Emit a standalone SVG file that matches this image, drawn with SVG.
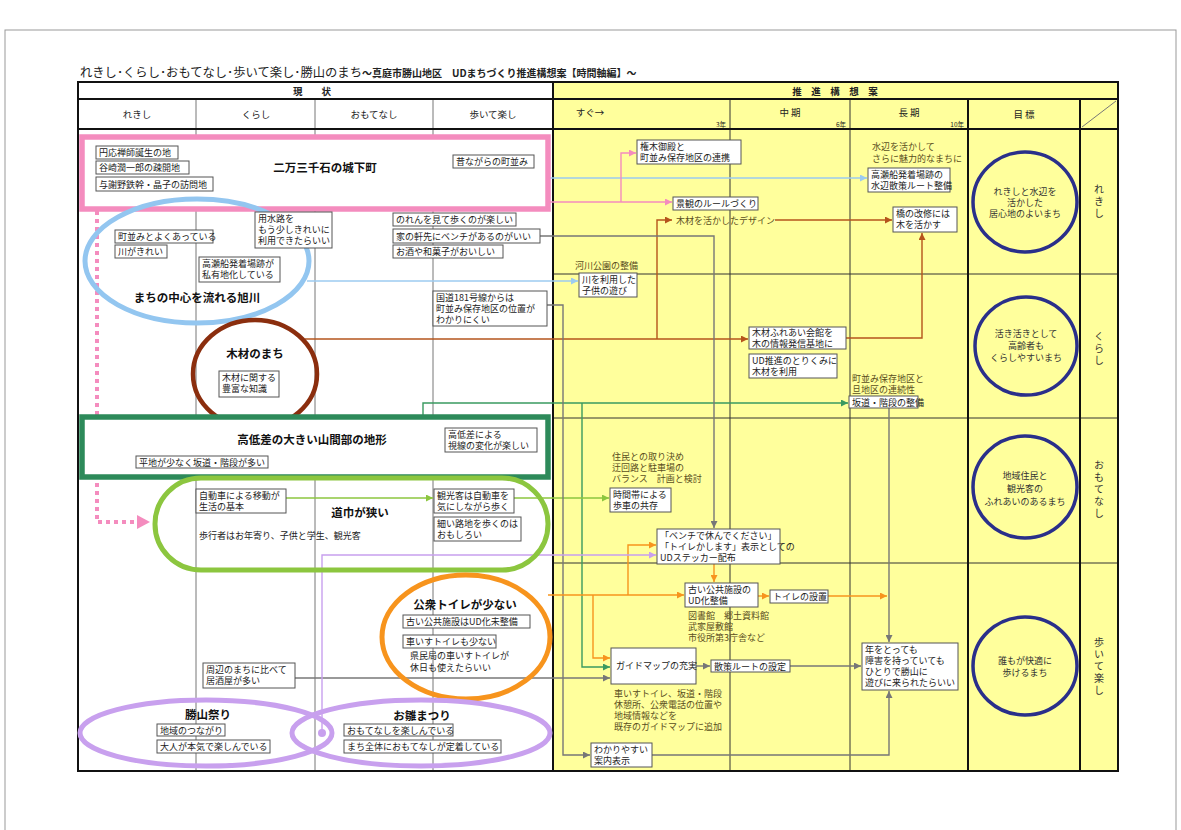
<svg xmlns="http://www.w3.org/2000/svg" width="1181" height="830" viewBox="0 0 1181 830">
<style>
.t{font-family:"Noto Sans CJK JP","Noto Sans CJK SC",sans-serif;font-size:9px;fill:#222}
.h{font-size:9.5px;text-anchor:middle}
.tb{font-weight:bold;font-size:11.5px;text-anchor:middle;fill:#111}
.ann{fill:#5a4e1c}
.ct{text-anchor:middle;font-size:9px;fill:#333}
.yr{font-size:6.5px;text-anchor:end}
.rl{text-anchor:middle;font-size:10px;fill:#333;writing-mode:vertical-rl;letter-spacing:2px}
.bx{fill:#fff;stroke:#555;stroke-width:1}
.gl{stroke:#777;stroke-width:1}
.dk{stroke:#333;stroke-width:1}
.hv{stroke:#111;stroke-width:2}
.c{fill:none;stroke-width:1.4}
.gray{stroke:#777}
.pink{stroke:#f48cbe}
.blue{stroke:#9ccbf0}
.brown{stroke:#b5541c}
.green{stroke:#3a9a60}
.yg{stroke:#8cc63f}
.org{stroke:#f7941d}
.pur{stroke:#c8a0ee}
.goal{fill:none;stroke:#2a2f8a;stroke-width:3.5}
</style>
<defs>
<marker id="aGray" viewBox="0 0 10 10" refX="10" refY="5" markerWidth="7" markerHeight="7" markerUnits="userSpaceOnUse" orient="auto"><path d="M0,0 L10,5 L0,10 z" fill="#777"/></marker>
<marker id="aPink" viewBox="0 0 10 10" refX="10" refY="5" markerWidth="7" markerHeight="7" markerUnits="userSpaceOnUse" orient="auto"><path d="M0,0 L10,5 L0,10 z" fill="#f48cbe"/></marker>
<marker id="aBlue" viewBox="0 0 10 10" refX="10" refY="5" markerWidth="7" markerHeight="7" markerUnits="userSpaceOnUse" orient="auto"><path d="M0,0 L10,5 L0,10 z" fill="#9ccbf0"/></marker>
<marker id="aBrown" viewBox="0 0 10 10" refX="10" refY="5" markerWidth="7" markerHeight="7" markerUnits="userSpaceOnUse" orient="auto"><path d="M0,0 L10,5 L0,10 z" fill="#b5541c"/></marker>
<marker id="aGreen" viewBox="0 0 10 10" refX="10" refY="5" markerWidth="7" markerHeight="7" markerUnits="userSpaceOnUse" orient="auto"><path d="M0,0 L10,5 L0,10 z" fill="#3a9a60"/></marker>
<marker id="aYg" viewBox="0 0 10 10" refX="10" refY="5" markerWidth="7" markerHeight="7" markerUnits="userSpaceOnUse" orient="auto"><path d="M0,0 L10,5 L0,10 z" fill="#8cc63f"/></marker>
<marker id="aOrg" viewBox="0 0 10 10" refX="10" refY="5" markerWidth="7" markerHeight="7" markerUnits="userSpaceOnUse" orient="auto"><path d="M0,0 L10,5 L0,10 z" fill="#f7941d"/></marker>
<marker id="aPur" viewBox="0 0 10 10" refX="10" refY="5" markerWidth="7" markerHeight="7" markerUnits="userSpaceOnUse" orient="auto"><path d="M0,0 L10,5 L0,10 z" fill="#c8a0ee"/></marker>
</defs>
<rect width="1181" height="830" fill="#fff"/>
<rect x="5" y="30" width="1171" height="820" fill="none" stroke="#999" stroke-width="1"/>

<g id="title">
<text x="80" y="77" class="t" style="font-size:12.3px"><tspan>れきし･くらし･おもてなし･歩いて楽し･勝山のまち</tspan><tspan style="font-size:10px;font-weight:bold">～真庭市勝山地区　UDまちづくり推進構想案【時間軸編】～</tspan></text>
</g>

<g id="table">
<rect x="553" y="82" width="565" height="689" fill="#ffff9c"/>
<line x1="196" y1="99" x2="196" y2="771" class="gl"/>
<line x1="315" y1="99" x2="315" y2="771" class="gl"/>
<line x1="433" y1="99" x2="433" y2="771" class="gl"/>
<line x1="730" y1="99" x2="730" y2="771" class="dk"/>
<line x1="850" y1="99" x2="850" y2="771" class="dk"/>
<line x1="553" y1="274" x2="1118" y2="274" class="dk"/>
<line x1="553" y1="418" x2="1118" y2="418" class="dk"/>
<line x1="553" y1="563" x2="1118" y2="563" class="dk"/>
<line x1="968" y1="99" x2="968" y2="771" class="hv"/>
<line x1="1080" y1="99" x2="1080" y2="771" class="hv"/>
<line x1="78" y1="99" x2="1118" y2="99" class="hv"/>
<line x1="78" y1="129" x2="1118" y2="129" class="hv"/>
<line x1="553" y1="82" x2="553" y2="771" class="hv"/>
<rect x="78" y="82" width="1040" height="689" fill="none" stroke="#111" stroke-width="2"/>
<line x1="1082" y1="127" x2="1116" y2="101" stroke="#777" stroke-width="1"/>
<text x="312" y="95" class="t h" font-weight="bold">現　　状</text>
<text x="137" y="118" class="t h">れきし</text>
<text x="256" y="118" class="t h">くらし</text>
<text x="374" y="118" class="t h">おもてなし</text>
<text x="493" y="118" class="t h">歩いて楽し</text>
<text x="835" y="95" class="t h" font-weight="bold">推　進　構　想　案</text>
<text x="590" y="116" class="t h">すぐ→</text>
<text x="790" y="116" class="t h">中 期</text>
<text x="909" y="116" class="t h">長 期</text>
<text x="1024" y="118" class="t h">目 標</text>
<text x="726" y="127" class="t yr">3年</text>
<text x="846" y="127" class="t yr">6年</text>
<text x="964" y="127" class="t yr">10年</text>
</g>

<g id="connectors">
<path d="M97,211 V522 H137" fill="none" stroke="#f48cbe" stroke-width="4" stroke-dasharray="4 4"/>
<polygon points="137,515 150,522 137,529" fill="#f48cbe"/>
<path class="c blue" d="M237,201 V178 H867" marker-end="url(#aBlue)"/>
<path class="c blue" d="M307,281 H578" marker-end="url(#aBlue)"/>
<path class="c pink" d="M548,202 H672" marker-end="url(#aPink)"/>
<path class="c pink" d="M621,202 V153 H636" marker-end="url(#aPink)"/>
<path class="c brown" d="M305,339 H748" marker-end="url(#aBrown)"/>
<path class="c brown" d="M657,339 V220 H672" marker-end="url(#aBrown)"/>
<path class="c brown" d="M775,220 H892" marker-end="url(#aBrown)"/>
<path class="c brown" d="M846,338 H922 V233" marker-end="url(#aBrown)"/>
<path class="c green" d="M268,462 H423 V403 H848" marker-end="url(#aGreen)"/>
<path class="c green" d="M582,403 V667 H610" marker-end="url(#aGreen)"/>
<path class="c yg" d="M286,498 H433" marker-end="url(#aYg)"/>
<path class="c yg" d="M514,498 H609" marker-end="url(#aYg)"/>
<path class="c gray" d="M540,236 H714 V528" marker-end="url(#aGray)"/>
<path class="c gray" d="M547,305 H563 V755 H590" marker-end="url(#aGray)"/>
<path class="c gray" d="M652,755 H889 V691" marker-end="url(#aGray)"/>
<path class="c gray" d="M295,678 H610" marker-end="url(#aGray)"/>
<path class="c gray" d="M696,666 H710" marker-end="url(#aGray)"/>
<path class="c gray" d="M790,666 H861" marker-end="url(#aGray)"/>
<path class="c gray" d="M889,408 V642" marker-end="url(#aGray)"/>
<path class="c org" d="M548,595 H684" marker-end="url(#aOrg)"/>
<path class="c org" d="M628,595 V545 H656" marker-end="url(#aOrg)"/>
<path class="c org" d="M593,595 V658 H610" marker-end="url(#aOrg)"/>
<path class="c org" d="M714,564 V582" marker-end="url(#aOrg)"/>
<path class="c org" d="M758,596 H769" marker-end="url(#aOrg)"/>
<path class="c org" d="M828,596 H887" marker-end="url(#aOrg)"/>
<path class="c pur" d="M322,733 V555 H656" marker-end="url(#aPur)"/>
<circle cx="322" cy="733" r="4" fill="#c8a0ee"/>
</g>

<g id="n-jokamachi">
<rect x="82" y="137" width="466" height="72" fill="#fff" stroke="#f48cbe" stroke-width="5.5"/>
<text x="325" y="172" class="t tb">二万三千石の城下町</text>
<rect x="96" y="146" width="82" height="13" class="bx"/><text x="99" y="156" class="t">円応禅師誕生の地</text>
<rect x="96" y="161" width="93" height="13" class="bx"/><text x="99" y="171" class="t">谷崎潤一郎の疎開地</text>
<rect x="96" y="177" width="117" height="14" class="bx"/><text x="99" y="188" class="t">与謝野鉄幹・晶子の訪問地</text>
<rect x="453" y="155" width="81" height="13" class="bx"/><text x="456" y="165" class="t">昔ながらの町並み</text>
</g>

<g id="n-asahikawa">
<ellipse cx="197" cy="261" rx="112" ry="62" fill="none" stroke="#93c6f0" stroke-width="5"/>
<text x="197" y="302" class="t tb">まちの中心を流れる旭川</text>
<rect x="115" y="230" width="98" height="13" class="bx"/><text x="118" y="240" class="t">町並みとよくあっている</text>
<rect x="115" y="245" width="52" height="13" class="bx"/><text x="118" y="255" class="t">川がきれい</text>
<rect x="255" y="212" width="77" height="36" class="bx"/><text x="258" y="222" class="t">用水路を</text><text x="258" y="233" class="t">もう少しきれいに</text><text x="258" y="244" class="t">利用できたらいい</text>
<rect x="199" y="257" width="81" height="25" class="bx"/><text x="202" y="267" class="t">高瀬船発着場跡が</text><text x="202" y="278" class="t">私有地化している</text>
</g>

<g id="n-omotenashi-top">
<rect x="393" y="213" width="123" height="13" class="bx"/><text x="396" y="223" class="t">のれんを見て歩くのが楽しい</text>
<rect x="393" y="229" width="147" height="14" class="bx"/><text x="396" y="240" class="t">家の軒先にベンチがあるのがいい</text>
<rect x="393" y="245" width="110" height="13" class="bx"/><text x="396" y="255" class="t">お酒や和菓子がおいしい</text>
<rect x="433" y="291" width="114" height="35" class="bx"/><text x="436" y="301" class="t">国道181号線からは</text><text x="436" y="312" class="t">町並み保存地区の位置が</text><text x="436" y="323" class="t">わかりにくい</text>
</g>

<g id="n-mokuzai">
<ellipse cx="255" cy="374" rx="62" ry="54" fill="none" stroke="#8b2e0e" stroke-width="4.5"/>
<text x="255" y="358" class="t tb">木材のまち</text>
<rect x="219" y="371" width="60" height="26" class="bx"/><text x="222" y="381" class="t">木材に関する</text><text x="222" y="392" class="t">豊富な知識</text>
</g>

<g id="n-kouteisa">
<rect x="82" y="417" width="466" height="60" fill="#fff" stroke="#2d8a5a" stroke-width="5.5"/>
<text x="312" y="444" class="t tb">高低差の大きい山間部の地形</text>
<rect x="445" y="428" width="92" height="24" class="bx"/><text x="448" y="438" class="t">高低差による</text><text x="448" y="449" class="t">視線の変化が楽しい</text>
<rect x="136" y="456" width="132" height="12" class="bx"/><text x="139" y="465.5" class="t">平地が少なく坂道・階段が多い</text>
</g>

<g id="n-michihaba">
<rect x="155" y="478" width="393" height="92" rx="46" ry="46" fill="none" stroke="#8cc63f" stroke-width="5"/>
<text x="360" y="517" class="t tb">道巾が狭い</text>
<rect x="196" y="489" width="90" height="24" class="bx"/><text x="199" y="499" class="t">自動車による移動が</text><text x="199" y="510" class="t">生活の基本</text>
<text x="199" y="539" class="t">歩行者はお年寄り、子供と学生、観光客</text>
<rect x="434" y="489" width="80" height="24" class="bx"/><text x="437" y="499" class="t">観光客は自動車を</text><text x="437" y="510" class="t">気にしながら歩く</text>
<rect x="434" y="517" width="87" height="24" class="bx"/><text x="437" y="527" class="t">細い路地を歩くのは</text><text x="437" y="538" class="t">おもしろい</text>
</g>

<g id="n-toilet">
<ellipse cx="466" cy="637" rx="84" ry="62" fill="none" stroke="#f7941d" stroke-width="5"/>
<text x="465" y="609" class="t tb">公衆トイレが少ない</text>
<rect x="403" y="615" width="127" height="13" class="bx"/><text x="406" y="625" class="t">古い公共施設はUD化未整備</text>
<rect x="403" y="635" width="93" height="13" class="bx"/><text x="406" y="645" class="t">車いすトイレも少ない</text>
<text x="410" y="659" class="t">県民局の車いすトイレが</text>
<text x="410" y="671" class="t">休日も使えたらいい</text>
</g>

<g id="n-izakaya">
<rect x="203" y="663" width="92" height="25" class="bx"/><text x="206" y="673" class="t">周辺のまちに比べて</text><text x="206" y="684" class="t">居酒屋が多い</text>
</g>

<g id="n-matsuri">
<ellipse cx="206" cy="733" rx="126" ry="33" fill="none" stroke="#c8a0ee" stroke-width="5"/>
<text x="208" y="719" class="t tb">勝山祭り</text>
<rect x="157" y="724" width="68" height="12" class="bx"/><text x="160" y="733.5" class="t">地域のつながり</text>
<rect x="157" y="740" width="113" height="13" class="bx"/><text x="160" y="750" class="t">大人が本気で楽しんでいる</text>
</g>

<g id="n-hina">
<ellipse cx="421" cy="733" rx="129" ry="33" fill="none" stroke="#c8a0ee" stroke-width="5"/>
<text x="422" y="720" class="t tb">お雛まつり</text>
<rect x="344" y="724" width="109" height="12" class="bx"/><text x="347" y="733.5" class="t">おもてなしを楽しんでいる</text>
<rect x="344" y="740" width="157" height="13" class="bx"/><text x="347" y="750" class="t">まち全体におもてなしが定着している</text>
</g>

<g id="n-plan-rekishi">
<rect x="637" y="140" width="104" height="24" class="bx"/><text x="640" y="150" class="t">権木御殿と</text><text x="640" y="161" class="t">町並み保存地区の連携</text>
<rect x="673" y="197" width="85" height="13" class="bx"/><text x="676" y="207" class="t">景観のルールづくり</text>
<text x="676" y="224" class="t ann">木材を活かしたデザイン</text>
<text x="872" y="150" class="t ann">水辺を活かして</text>
<text x="872" y="162" class="t ann">さらに魅力的なまちに</text>
<rect x="868" y="168" width="82" height="24" class="bx"/><text x="871" y="178" class="t">高瀬船発着場跡の</text><text x="871" y="189" class="t">水辺散策ルート整備</text>
<rect x="893" y="207" width="64" height="25" class="bx"/><text x="896" y="217" class="t">橋の改修には</text><text x="896" y="228" class="t">木を活かす</text>
</g>

<g id="n-plan-kurashi">
<text x="575" y="269" class="t ann">河川公園の整備</text>
<rect x="579" y="273" width="58" height="24" class="bx"/><text x="582" y="283" class="t">川を利用した</text><text x="582" y="294" class="t">子供の遊び</text>
<rect x="749" y="327" width="97" height="22" class="bx"/><text x="752" y="336" class="t">木材ふれあい会館を</text><text x="752" y="347" class="t">木の情報発信基地に</text>
<rect x="749" y="354" width="88" height="24" class="bx"/><text x="752" y="364" class="t">UD推進のとりくみに</text><text x="752" y="375" class="t">木材を利用</text>
<text x="852" y="382" class="t ann">町並み保存地区と</text>
<text x="852" y="393" class="t ann">旦地区の連続性</text>
<rect x="849" y="396" width="69" height="12" class="bx"/><text x="852" y="405.5" class="t">坂道・階段の整備</text>
</g>

<g id="n-plan-omotenashi">
<text x="612" y="460" class="t ann">住民との取り決め</text>
<text x="612" y="471" class="t ann">迂回路と駐車場の</text>
<text x="612" y="482" class="t ann">バランス　計画と検討</text>
<rect x="610" y="488" width="61" height="24" class="bx"/><text x="613" y="498" class="t">時間帯による</text><text x="613" y="509" class="t">歩車の共存</text>
<rect x="657" y="529" width="123" height="35" class="bx"/><text x="660" y="539" class="t">「ベンチで休んでください」</text><text x="660" y="550" class="t">「トイレかします」表示としての</text><text x="660" y="561" class="t">UDステッカー配布</text>
</g>

<g id="n-plan-aruite">
<rect x="685" y="583" width="73" height="24" class="bx"/><text x="688" y="593" class="t">古い公共施設の</text><text x="688" y="604" class="t">UD化整備</text>
<rect x="770" y="590" width="58" height="13" class="bx"/><text x="773" y="600" class="t">トイレの設置</text>
<text x="688" y="619" class="t ann">図書館　郷土資料館</text>
<text x="688" y="630" class="t ann">武家屋敷館</text>
<text x="688" y="641" class="t ann">市役所第3庁舎など</text>
<rect x="611" y="648" width="85" height="36" class="bx"/><text x="616" y="669" class="t">ガイドマップの充実</text>
<rect x="711" y="660" width="79" height="12" class="bx"/><text x="714" y="669.5" class="t">散策ルートの設定</text>
<rect x="862" y="643" width="96" height="47" class="bx"/><text x="865" y="653" class="t">年をとっても</text><text x="865" y="664" class="t">障害を持っていても</text><text x="865" y="675" class="t">ひとりで勝山に</text><text x="865" y="686" class="t">遊びに来られたらいい</text>
<text x="614" y="697" class="t ann">車いすトイレ、坂道・階段</text>
<text x="614" y="708" class="t ann">休憩所、公衆電話の位置や</text>
<text x="614" y="719" class="t ann">地域情報などを</text>
<text x="614" y="730" class="t ann">既存のガイドマップに追加</text>
<rect x="591" y="743" width="61" height="24" class="bx"/><text x="594" y="753" class="t">わかりやすい</text><text x="594" y="764" class="t">案内表示</text>
</g>

<g id="n-goal-1">
<ellipse cx="1025" cy="202" rx="52" ry="50" class="goal"/>
<text x="1025" y="195" class="t ct">れきしと水辺を</text><text x="1025" y="206" class="t ct">活かした</text><text x="1025" y="217" class="t ct">居心地のよいまち</text>
</g>
<g id="n-goal-2">
<ellipse cx="1026" cy="346" rx="51" ry="49" class="goal"/>
<text x="1026" y="337" class="t ct">活き活きとして</text><text x="1026" y="349" class="t ct">高齢者も</text><text x="1026" y="361" class="t ct">くらしやすいまち</text>
</g>
<g id="n-goal-3">
<ellipse cx="1025" cy="487" rx="52" ry="51" class="goal"/>
<text x="1025" y="479" class="t ct">地域住民と</text><text x="1025" y="492" class="t ct">観光客の</text><text x="1025" y="505" class="t ct">ふれあいのあるまち</text>
</g>
<g id="n-goal-4">
<ellipse cx="1025" cy="666" rx="52" ry="49" class="goal"/>
<text x="1025" y="664" class="t ct">誰もが快適に</text><text x="1025" y="676" class="t ct">歩けるまち</text>
</g>

<g id="row-labels">
<text x="1099" y="202" class="t rl">れきし</text>
<text x="1099" y="349" class="t rl">くらし</text>
<text x="1099" y="490" class="t rl">おもてなし</text>
<text x="1099" y="667" class="t rl">歩いて楽し</text>
</g>
</svg>
